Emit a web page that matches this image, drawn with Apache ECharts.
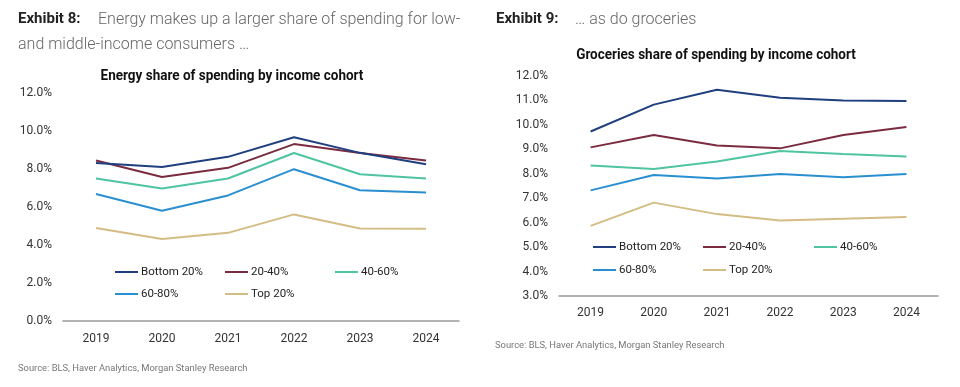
<!DOCTYPE html>
<html><head><meta charset="utf-8">
<script src="https://cdn.jsdelivr.net/npm/echarts@6/dist/echarts.min.js"></script>
<style>html,body{margin:0;padding:0;background:#fff}#c{width:960px;height:387px}</style>
</head><body><div id="c"></div>
<script>
const years = ['2019','2020','2021','2022','2023','2024'];
const seriesNames = ['Bottom 20%','20-40%','40-60%','60-80%','Top 20%'];
const colors = ['#1f3f7f','#7b2b3f','#4fc4a0','#2a8fd0','#d4bd84'];
// Energy share (%)
const energyBottom = [8.32, 8.11, 8.64, 9.67, 8.85, 8.25];
const energy2040   = [8.45, 7.58, 8.06, 9.31, 8.84, 8.45];
const energy4060   = [7.50, 6.97, 7.50, 8.84, 7.72, 7.50];
const energy6080   = [6.68, 5.80, 6.61, 7.99, 6.88, 6.76];
const energyTop    = [4.90, 4.32, 4.64, 5.61, 4.87, 4.85];
// Groceries share (%)
const grocBottom = [9.73, 10.83, 11.44, 11.11, 11.00, 10.98];
const groc2040   = [9.08, 9.59, 9.16, 9.04, 9.59, 9.91];
const groc4060   = [8.34, 8.20, 8.50, 8.93, 8.81, 8.71];
const groc6080   = [7.32, 7.95, 7.81, 7.99, 7.86, 7.99];
const grocTop    = [5.87, 6.82, 6.35, 6.09, 6.16, 6.23];

const energyData = [energyBottom, energy2040, energy4060, energy6080, energyTop];
const grocData = [grocBottom, groc2040, groc4060, groc6080, grocTop];

const FONT = 'Roboto, "Noto Sans", sans-serif';

const chart = echarts.init(document.getElementById('c'), null, {renderer:'canvas'});

function mkLegends(prefix, leftCols, tops){
  const pos = [[0,0],[1,0],[2,0],[0,1],[1,1]];
  return seriesNames.map((n,i)=>({
    data:[{name:prefix+n}],
    left: leftCols[pos[i][0]], top: tops[pos[i][1]],
    icon:'rect', itemWidth:23, itemHeight:2, itemGap:0,
    padding:0,
    textStyle:{fontFamily:FONT, fontSize:11.5, color:'#222', padding:[0,0,0,-2]},
    formatter: (name)=>name.slice(prefix.length),
    selectedMode:false
  }));
}

const series = [];
seriesNames.forEach((n,i)=>{
  series.push({name:'E:'+n, type:'line', xAxisIndex:0, yAxisIndex:0, data:energyData[i],
    showSymbol:false, symbol:'none', lineStyle:{color:colors[i], width:2}, itemStyle:{color:colors[i]}, animation:false, z:10-i});
  series.push({name:'G:'+n, type:'line', xAxisIndex:1, yAxisIndex:1, data:grocData[i],
    showSymbol:false, symbol:'none', lineStyle:{color:colors[i], width:2}, itemStyle:{color:colors[i]}, animation:false, z:10-i});
});

const axisLab = {fontFamily:FONT, fontSize:12, color:'#333'};

chart.setOption({
  animation:false,
  grid:[
    {left:63, right:501, top:93, bottom:66},
    {left:559, right:22, top:76, bottom:91}
  ],
  xAxis:[
    {type:'category', gridIndex:0, data:years, axisTick:{show:false},
     axisLine:{lineStyle:{color:'#999', width:1.5}}, axisLabel:Object.assign({margin:12}, axisLab)},
    {type:'category', gridIndex:1, data:years, axisTick:{show:false},
     axisLine:{lineStyle:{color:'#999', width:1.5}}, axisLabel:Object.assign({margin:11}, axisLab)}
  ],
  yAxis:[
    {type:'value', gridIndex:0, min:0, max:12, interval:2, splitLine:{show:false},
     axisLine:{show:false}, axisTick:{show:false},
     axisLabel:Object.assign({margin:11, formatter:v=>v.toFixed(1)+'%'}, axisLab)},
    {type:'value', gridIndex:1, min:3, max:12, interval:1, splitLine:{show:false},
     axisLine:{show:false}, axisTick:{show:false},
     axisLabel:Object.assign({margin:11, formatter:v=>v.toFixed(1)+'%'}, axisLab)}
  ],
  legend: [].concat(
    mkLegends('E:', [115,225,335], [266,288]),
    mkLegends('G:', [593,703,814], [241,264])
  ),
  graphic:[
    {type:'text', x:232, y:76, scaleX:0.9, style:{text:'Energy share of spending by income cohort', font:'bold 15px '+FONT, fill:'#111', textAlign:'center', textVerticalAlign:'middle'}},
    {type:'text', x:716, y:55, scaleX:0.9, style:{text:'Groceries share of spending by income cohort', font:'bold 15px '+FONT, fill:'#111', textAlign:'center', textVerticalAlign:'middle'}},
    {type:'text', left:18, top:12, style:{text:'Exhibit 8:', font:'bold 15px '+FONT, fill:'#222'}},
    {type:'text', left:98, top:12, style:{text:'Energy makes up a larger share of spending for low-', font:'300 16px '+FONT, fill:'#666'}},
    {type:'text', left:18, top:37, style:{text:'and middle-income consumers …', font:'300 16px '+FONT, fill:'#666'}},
    {type:'text', left:496, top:12, style:{text:'Exhibit 9:', font:'bold 15px '+FONT, fill:'#222'}},
    {type:'text', left:575, top:12, style:{text:'… as do groceries', font:'300 16px '+FONT, fill:'#666'}},
    {type:'text', left:18, top:364, style:{text:'Source: BLS, Haver Analytics, Morgan Stanley Research', font:'9.4px '+FONT, fill:'#777'}},
    {type:'text', left:495, top:341, style:{text:'Source: BLS, Haver Analytics, Morgan Stanley Research', font:'9.4px '+FONT, fill:'#777'}}
  ],
  series: series
});
</script></body></html>
